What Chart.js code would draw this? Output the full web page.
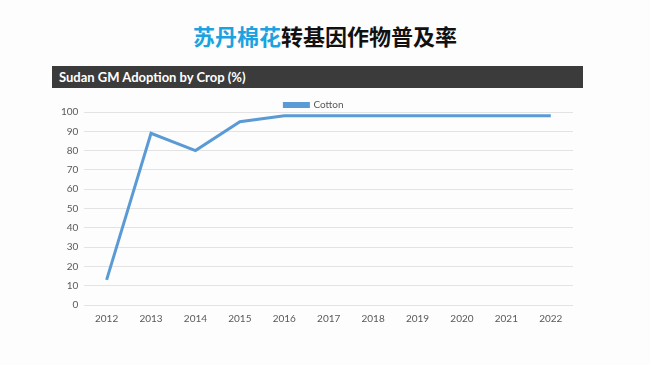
<!DOCTYPE html>
<html>
<head>
<meta charset="utf-8">
<script src="https://cdn.jsdelivr.net/npm/chart.js@4"></script>
<style>
  html, body { margin: 0; padding: 0; }
  body { width: 650px; height: 365px; background: #fdfdfd; position: relative; overflow: hidden; }
  #title {
    position: absolute; left: 0; top: 19px; width: 650px; text-align: center;
    font-family: "Noto Sans CJK SC"; font-weight: 700; font-size: 22px; color: #111;
  }
  #title span { color: #1aa3e0; }
  #banner {
    position: absolute; left: 52px; top: 66px; width: 531px; height: 22px;
    background: #3b3b3b; color: #fff;
    font-family: Lato, sans-serif; font-weight: 700; font-size: 13px;
    line-height: 22px; padding-left: 7px; box-sizing: border-box;
  }
  #wrap { position: absolute; left: 52px; top: 94px; width: 527px; height: 231px; }
</style>
</head>
<body>
<div id="title"><span>苏丹棉花</span>转基因作物普及率</div>
<div id="banner">Sudan GM Adoption by Crop (%)</div>
<div id="wrap"><canvas id="c"></canvas></div>
<script>
// data
const years = ['2012', '2013', '2014', '2015', '2016', '2017', '2018', '2019', '2020', '2021', '2022']
const cotton = [13, 89, 80, 95, 98, 98, 98, 98, 98, 98, 98]

const tickFont = { family: 'Lato', size: 10 }

// keep the legend row short so the plot starts close under it
const legendHeight = {
  id: 'legendHeight',
  beforeInit(chart) {
    const fit = chart.legend.fit
    chart.legend.fit = function () {
      fit.call(this)
      this.height = 18
    }
  }
}

new Chart(document.getElementById('c'), {
  type: 'line',
  data: {
    labels: years,
    datasets: [{
      label: 'Cotton',
      data: cotton,
      borderColor: '#5b9bd5',
      backgroundColor: '#5b9bd5',
      borderWidth: 3,
      pointRadius: 0,
      tension: 0,
    }]
  },
  options: {
    responsive: true,
    maintainAspectRatio: false,
    animation: false,
    layout: { padding: { left: 3, right: 6, top: 0, bottom: 0 } },
    plugins: {
      legend: {
        position: 'top',
        labels: {
          boxWidth: 24, boxHeight: 3, color: '#595959',
          font: { family: 'Lato', size: 10 }, padding: 6,
        }
      },
      tooltip: { enabled: false },
    },
    scales: {
      x: {
        offset: true,
        grid: { display: false },
        border: { display: false },
        ticks: { color: '#595959', font: tickFont, padding: 0 },
      },
      y: {
        min: 0, max: 100,
        ticks: { stepSize: 10, color: '#595959', font: tickFont, padding: 6 },
        grid: { color: '#e3e3e3', lineWidth: 1, drawTicks: false },
        border: { display: false },
      }
    }
  },
  plugins: [legendHeight]
})
</script>
</body>
</html>
